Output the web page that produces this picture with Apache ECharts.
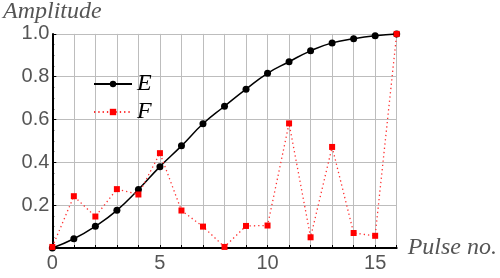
<!DOCTYPE html>
<html>
<head>
<meta charset="utf-8">
<script src="https://cdn.jsdelivr.net/npm/echarts@6/dist/echarts.min.js"></script>
<style>
  html, body { margin: 0; padding: 0; background: #fff; }
  #chart { width: 500px; height: 278px; }
</style>
</head>
<body>
<div id="chart"></div>
<script>
// pulse numbers 0..16
const pulses = [0, 1, 2, 3, 4, 5, 6, 7, 8, 9, 10, 11, 12, 13, 14, 15, 16]
// E amplitude (smooth rise)
const eValues = [0, 0.043, 0.102, 0.176, 0.273, 0.38, 0.477, 0.58, 0.662, 0.742, 0.816, 0.87, 0.921, 0.958, 0.977, 0.991, 1.0]
// F amplitude (jumpy)
const fValues = [0.005, 0.242, 0.147, 0.275, 0.25, 0.443, 0.175, 0.1, 0.005, 0.103, 0.105, 0.582, 0.05, 0.472, 0.07, 0.057, 1.0]
const xLabels = [0, 5, 10, 15]

const labelFont = { fontFamily: 'Liberation Sans', fontSize: 20, color: '#555' }
const nameFont = { fontFamily: 'Liberation Serif', fontStyle: 'italic', fontSize: 24, color: '#555' }

const chart = echarts.init(document.getElementById('chart'))

chart.setOption({
  animation: false,
  grid: { left: 51, right: 101, top: 32, bottom: 30 },
  legend: {
    left: 88,
    top: 67,
    orient: 'vertical',
    itemWidth: 38,
    itemHeight: 8,
    itemGap: 4,
    textStyle: { fontFamily: 'Liberation Serif', fontStyle: 'italic', fontSize: 24, color: '#000' },
    data: ['E', 'F']
  },
  xAxis: {
    type: 'value',
    min: 0,
    max: 16,
    interval: 1,
    name: 'Pulse no.',
    nameLocation: 'end',
    nameGap: 11,
    nameTextStyle: nameFont,
    axisLine: { lineStyle: { color: '#000', width: 2 } },
    axisTick: { inside: true, length: 3, lineStyle: { color: '#000' } },
    axisLabel: Object.assign({
      margin: 5,
      formatter: v => (xLabels.includes(v) ? String(v) : '')
    }, labelFont),
    splitLine: { show: true, lineStyle: { color: '#bdbdbd', width: 1 } }
  },
  yAxis: {
    type: 'value',
    min: 0,
    max: 1,
    interval: 0.2,
    name: 'Amplitude',
    nameLocation: 'end',
    nameGap: 6,
    nameTextStyle: nameFont,
    axisLine: { show: true, lineStyle: { color: '#000', width: 2 } },
    axisTick: { show: true, inside: true, length: 4, lineStyle: { color: '#000' } },
    minorTick: { show: true, splitNumber: 4, length: 2, lineStyle: { color: '#000' } },
    axisLabel: Object.assign({
      margin: 3,
      formatter: v => (v === 0 ? '' : v.toFixed(1))
    }, labelFont),
    splitLine: { show: true, lineStyle: { color: '#bdbdbd', width: 1 } }
  },
  series: [
    {
      name: 'E',
      type: 'line',
      smooth: 0.5,
      clip: false,
      symbol: 'circle',
      symbolSize: 7,
      itemStyle: { color: '#000' },
      lineStyle: { color: '#000', width: 1.5 },
      data: pulses.map((p, i) => [p, eValues[i]])
    },
    {
      name: 'F',
      type: 'line',
      clip: false,
      symbol: 'rect',
      symbolSize: 6,
      itemStyle: { color: '#ff0000' },
      lineStyle: { color: '#ff3030', width: 1.3, type: [1.3, 3] },
      data: pulses.map((p, i) => [p, fValues[i]])
    }
  ]
})
</script>
</body>
</html>
